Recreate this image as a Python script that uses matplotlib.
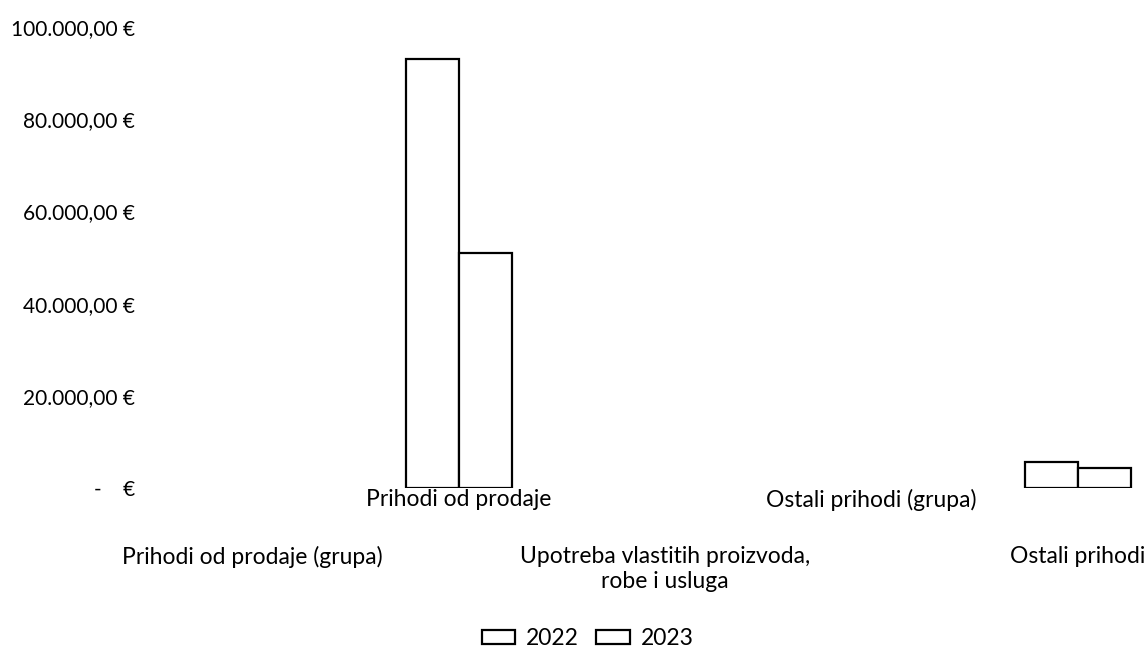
import matplotlib
matplotlib.use("Agg")
import matplotlib.pyplot as plt
import matplotlib.patches as mpatches
import numpy as np

categories = ["Prihodi od prodaje (grupa)", "Prihodi od prodaje",
              "Upotreba vlastitih proizvoda,\nrobe i usluga",
              "Ostali prihodi (grupa)", "Ostali prihodi"]
series_names = ["2022", "2023"]
values_2022 = [0, 93000, 0, 0, 5600]
values_2023 = [0, 51000, 0, 0, 4300]
y_ticks = [0, 20000, 40000, 60000, 80000, 100000]
y_tick_labels = ["-    €", "20.000,00 €", "40.000,00 €", "60.000,00 €",
                 "80.000,00 €", "100.000,00 €"]

plt.rcParams['font.family'] = ['Lato', 'DejaVu Sans']
FS = 15
FSX = 16.5

fig = plt.figure(figsize=(11.48, 6.55), dpi=100)
ax = fig.add_axes([149/1148, (655-488)/655, (1181-149)/1148, (488-27)/655])

x = np.arange(len(categories))
w = 0.257
for vals, off in ((values_2022, -w/2), (values_2023, w/2)):
    lws = [1.6 if v > 0 else 0 for v in vals]
    ax.bar(x + off, vals, width=w, color="white", edgecolor="black",
           linewidth=lws)

ax.set_xlim(-0.5, len(categories) - 0.5)
ax.set_ylim(0, 100000)
ax.set_yticks(y_ticks)
ax.set_yticklabels(y_tick_labels, fontsize=FS)
ax.tick_params(axis='y', length=0, pad=10)

# staggered category labels
major_idx = [i for i in range(len(categories)) if i % 2 == 1]
minor_idx = [i for i in range(len(categories)) if i % 2 == 0]
ax.set_xticks(major_idx)
ax.set_xticklabels([categories[i] for i in major_idx], fontsize=FSX)
ax.set_xticks(minor_idx, minor=True)
ax.set_xticklabels([categories[i] for i in minor_idx], minor=True,
                   fontsize=FSX, multialignment='center')
ax.tick_params(axis='x', which='major', length=0, pad=1)
ax.tick_params(axis='x', which='minor', length=0, pad=42)

for s in ax.spines.values():
    s.set_visible(False)

handles = [mpatches.Patch(facecolor="white", edgecolor="black", linewidth=1.6,
                          label=n) for n in series_names]
fig.legend(handles=handles, loc='center', bbox_to_anchor=(0.512, 0.025),
           ncol=2, frameon=False, fontsize=FSX, handlelength=1.45,
           handleheight=0.58, handletextpad=0.5, columnspacing=0.75)

fig.savefig("out.png", dpi=100)
